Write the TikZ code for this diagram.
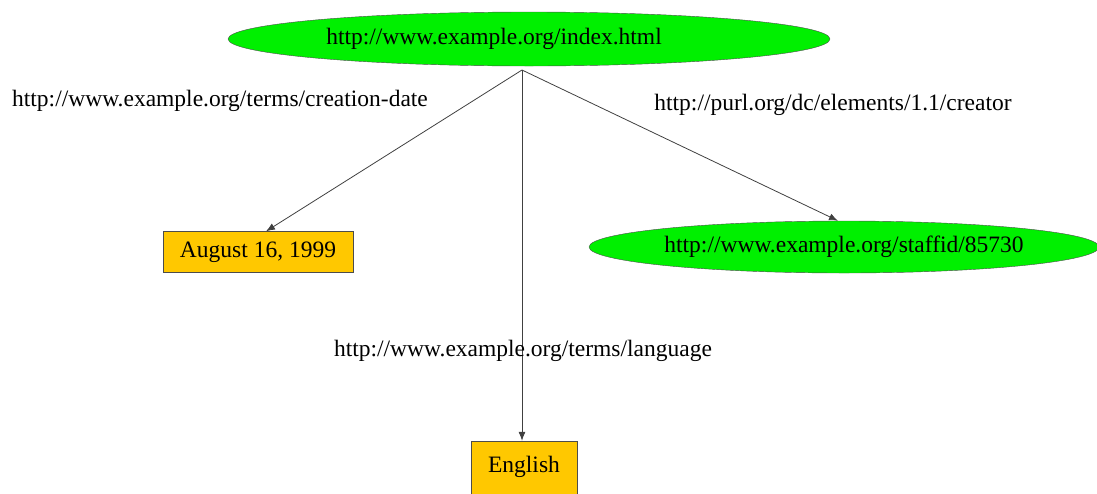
\documentclass[tikz,border=0pt]{standalone}
\usepackage{fontspec}
\setmainfont{Liberation Serif}
\usetikzlibrary{shapes.geometric,arrows.meta}
\definecolor{resgreen}{RGB}{0,240,0}
\definecolor{litgold}{RGB}{255,200,0}
\begin{document}
\begin{tikzpicture}[x=1pt,y=-1pt,
  txt/.style={font=\fontsize{23.5}{26}\selectfont},
  res/.style={ellipse,draw=black!70,fill=resgreen,inner sep=0pt,txt},
  lit/.style={rectangle,draw=black!70,fill=litgold,inner sep=0pt,txt},
  lab/.style={inner sep=0pt,txt},
  edge/.style={draw=black!75,line width=0.8pt,-{Latex[length=9pt,width=7pt]}}]
\useasboundingbox (0,0) rectangle (1097,493);
\node[res,minimum width=602pt,minimum height=54pt] (top) at (529,39) {http://www.example.org/index.html\hspace*{70pt}};
\node[lit,minimum width=190pt,minimum height=41pt] (aug) at (258,252) {August 16, 1999};
\node[res,minimum width=510pt,minimum height=52pt] (staff) at (844,247) {http://www.example.org/staffid/85730};
\node[lit,minimum width=106pt,minimum height=60pt] (eng) at (524,471) {\raisebox{14pt}{English}};
\coordinate (hub) at (522,70);
\draw[edge] (hub) -- (aug.north -| 266,0);
\draw[edge] (hub) -- (staff.north -| 838,0);
\draw[edge] (hub) -- (eng.north -| 522,0);
\node[lab] (l1) at (220,101) {http://www.example.org/terms/creation-date};
\node[lab] (l2) at (833,105) {http://purl.org/dc/elements/1.1/creator};
\node[lab] (l3) at (523,351) {http://www.example.org/terms/language};
\end{tikzpicture}
\end{document}
